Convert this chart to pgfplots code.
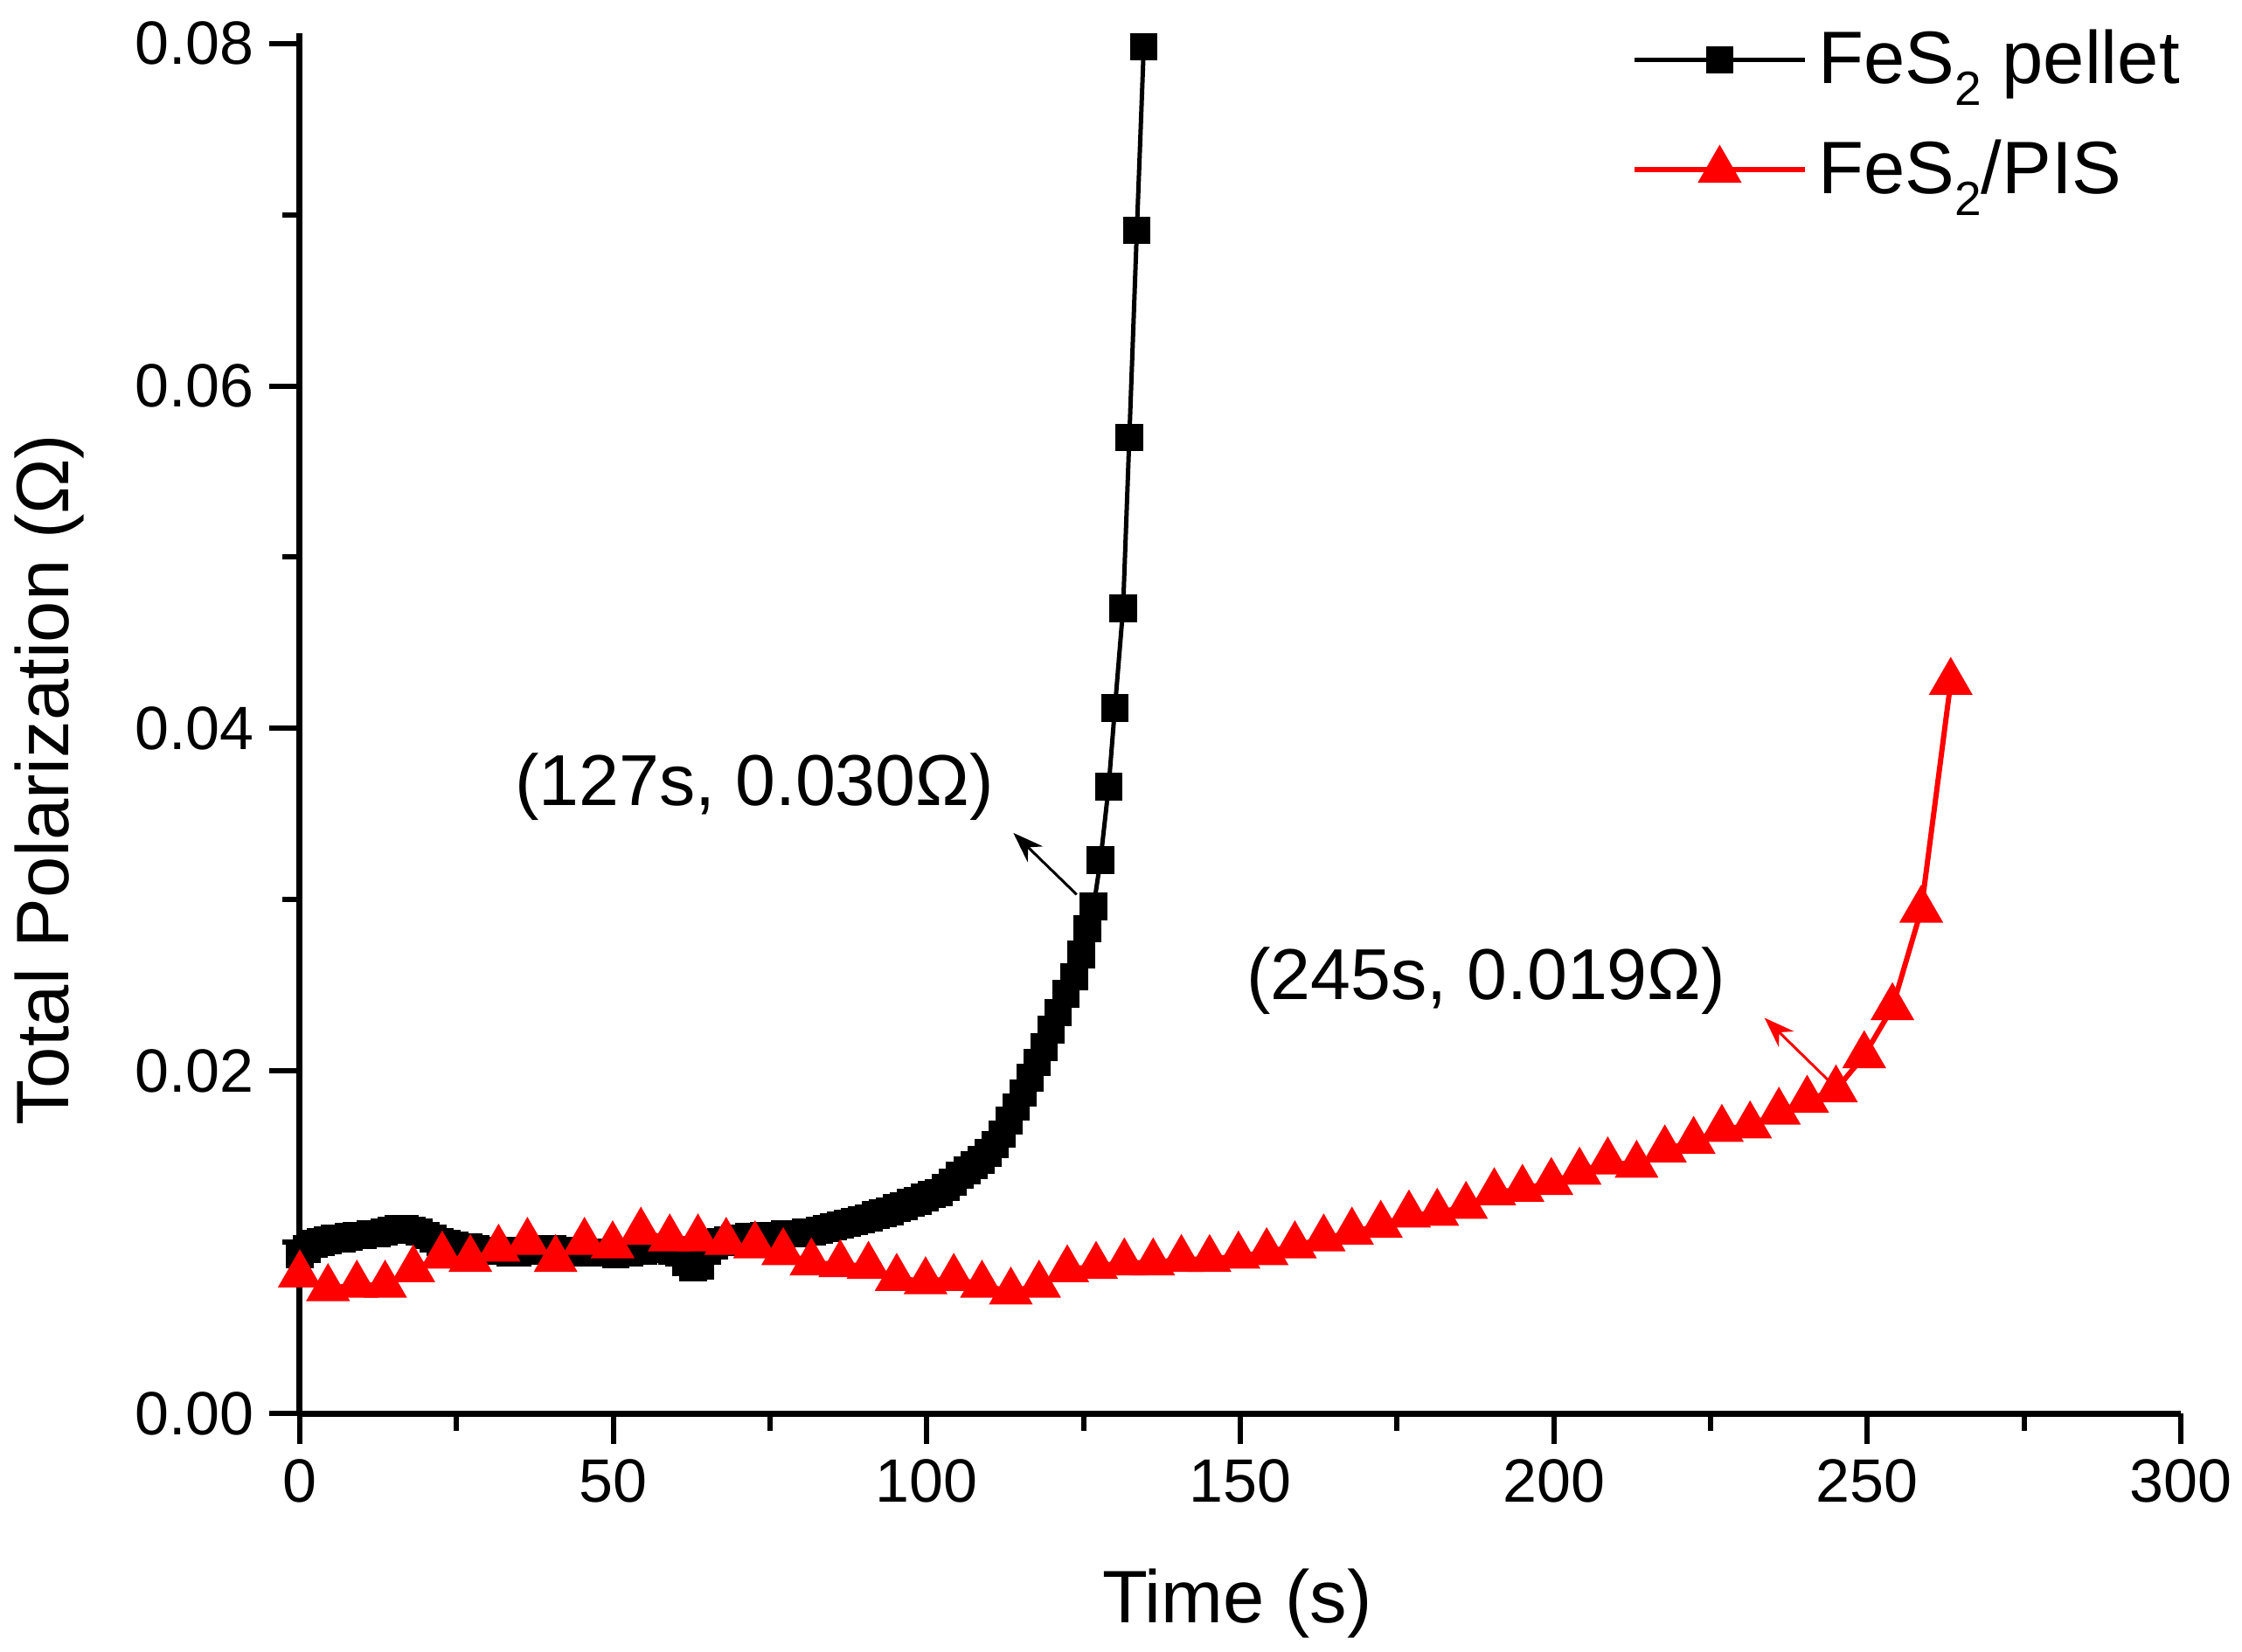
\documentclass[border=0pt]{standalone}
\usepackage{fontspec}
\setmainfont{Liberation Sans}
\usepackage{pgfplots}
\pgfplotsset{compat=1.18}
\usetikzlibrary{arrows.meta}
\newcommand\sub[1]{\raisebox{-0.55ex}{\fontsize{11}{11}\selectfont #1}}
\begin{document}
\begin{tikzpicture}
\useasboundingbox (-68.6pt,-54.4pt) rectangle (444.4pt,323.4pt);
\begin{axis}[
 at={(0,0)}, anchor=south west,
 scale only axis, width=430.4pt, height=315.8pt,
 xmin=0, xmax=300, ymin=0, ymax=0.0806,
 axis x line*=bottom, axis y line*=left,
 axis line style={line width=1.4pt},
 xtick={0,50,100,150,200,250,300},
 ytick={0,0.02,0.04,0.06,0.08},
 minor x tick num=1, minor y tick num=1,
 tick align=outside, major tick length=7pt, minor tick length=4pt,
 tick style={black, line width=1.2pt},
 scaled y ticks=false,
 yticklabel style={/pgf/number format/.cd, fixed, fixed zerofill, precision=2},
 /pgf/number format/assume math mode=true,
 tick label style={font=\fontsize{14}{16}\selectfont},
 xlabel={Time (s)}, ylabel={Total Polarization (Ω)},
 label style={font=\fontsize{17}{20}\selectfont},
 xlabel style={at={(axis cs:149.5,-0.0111)}, anchor=center},
 ylabel style={at={(axis cs:-39.9,0.037)}, anchor=center},
 legend style={at={(axis cs:212.3,0.0815)}, anchor=north west, draw=none, fill=none,
   font=\fontsize{17}{20}\selectfont, row sep=6.4pt, inner sep=0pt, nodes={inner sep=2.5pt}},
 legend cell align=left,
 legend image code/.code={\draw[mark repeat=2, mark phase=2] plot coordinates {(0pt,0pt) (19.5pt,0pt) (39pt,0pt)};},
 clip=false,
]
\addplot[black, line width=1pt, mark=square*, mark size=2.65pt, mark options={solid}] coordinates {
(0.00,0.0093) (1.12,0.0096) (2.24,0.0099) (3.36,0.0100) (4.48,0.0101) (5.60,0.0102)
(6.72,0.0102) (7.84,0.0103) (8.96,0.0104) (10.08,0.0104) (11.20,0.0105) (12.32,0.0105)
(13.44,0.0106) (14.56,0.0107) (15.68,0.0108) (16.80,0.0108) (17.92,0.0107) (19.04,0.0106)
(20.16,0.0104) (21.28,0.0102) (22.40,0.0100) (23.52,0.0099) (24.64,0.0098) (25.76,0.0097)
(26.88,0.0097) (28.00,0.0096) (29.12,0.0095) (30.24,0.0095) (31.36,0.0095) (32.48,0.0095)
(33.60,0.0094) (34.72,0.0094) (35.84,0.0095) (36.96,0.0095) (38.08,0.0095) (39.20,0.0096)
(40.32,0.0096) (41.44,0.0095) (42.56,0.0095) (43.68,0.0095) (44.80,0.0094) (45.92,0.0094)
(47.04,0.0094) (48.16,0.0094) (49.28,0.0094) (50.40,0.0093) (51.52,0.0094) (52.64,0.0094)
(53.76,0.0095) (54.88,0.0095) (56.00,0.0096) (57.12,0.0096) (58.24,0.0096) (59.36,0.0095)
(60.48,0.0094) (61.60,0.0088) (62.72,0.0085) (63.84,0.0086) (64.96,0.0095) (66.08,0.0098)
(67.20,0.0100) (68.32,0.0101) (69.44,0.0102) (70.56,0.0102) (71.68,0.0103) (72.80,0.0103)
(73.92,0.0104) (75.04,0.0104) (76.16,0.0104) (77.28,0.0105) (78.40,0.0105) (79.52,0.0105)
(80.64,0.0106) (81.76,0.0106) (82.88,0.0107) (84.00,0.0108) (85.12,0.0109) (86.24,0.0110)
(87.36,0.0111) (88.48,0.0112) (89.60,0.0113) (90.72,0.0114) (91.84,0.0116) (92.96,0.0117)
(94.08,0.0118) (95.20,0.0120) (96.32,0.0121) (97.44,0.0123) (98.56,0.0124) (99.68,0.0126)
(100.80,0.0128) (101.92,0.0129) (103.04,0.0132) (104.16,0.0135) (105.28,0.0139) (106.40,0.0142)
(107.52,0.0145) (108.64,0.0148) (109.76,0.0152) (110.88,0.0157) (112.00,0.0163) (113.12,0.0171)
(114.24,0.0179) (115.36,0.0187) (116.48,0.0196) (117.60,0.0205) (118.72,0.0214) (119.84,0.0224)
(120.96,0.0234) (122.20,0.0245) (123.50,0.0255) (124.60,0.0268) (125.60,0.0283) (126.60,0.0296)
(127.70,0.0323) (129.00,0.0366) (130.00,0.0412) (131.30,0.0470) (132.30,0.0570) (133.50,0.0691)
(134.60,0.0798)
};
\addlegendentry{FeS\sub{2} pellet}
\addplot[red, line width=1.2pt, mark=triangle*, mark size=4.6pt, mark options={solid}] coordinates {
(0.0,0.0081) (4.5,0.0073) (9.1,0.0075) (13.6,0.0075) (18.1,0.0084) (22.7,0.0092)
(27.2,0.0090) (31.7,0.0096) (36.3,0.0100) (40.8,0.0090) (45.4,0.0100) (49.9,0.0098)
(54.4,0.0106) (59.0,0.0102) (63.5,0.0102) (68.0,0.0100) (72.6,0.0098) (77.1,0.0094)
(81.6,0.0088) (86.2,0.0087) (90.7,0.0086) (95.2,0.0079) (99.8,0.0077) (104.3,0.0079)
(108.8,0.0075) (113.4,0.0071) (117.9,0.0075) (122.4,0.0084) (127.0,0.0086) (131.5,0.0088)
(136.1,0.0088) (140.6,0.0090) (145.1,0.0090) (149.7,0.0092) (154.2,0.0094) (158.7,0.0098)
(163.3,0.0102) (167.8,0.0106) (172.4,0.0110) (176.9,0.0116) (181.4,0.0117) (186.0,0.0121)
(190.5,0.0129) (195.0,0.0131) (199.6,0.0135) (204.1,0.0141) (208.6,0.0147) (213.2,0.0145)
(217.7,0.0154) (222.3,0.0159) (226.8,0.0166) (231.3,0.0168) (235.9,0.0176) (240.4,0.0183)
(245.0,0.0189) (249.5,0.0209) (254.0,0.0237) (258.6,0.0294) (263.3,0.0427)
};
\addlegendentry{FeS\sub{2}/PIS}
\node[font=\fontsize{16.5}{19}\selectfont, anchor=center] at (axis cs:72.5,0.0366) {(127s, 0.030Ω)};
\node[font=\fontsize{16.5}{19}\selectfont, anchor=center] at (axis cs:189.2,0.02525) {(245s, 0.019Ω)};
\draw[black, line width=0.6pt, -{Stealth[length=7pt,width=5pt]}] (axis cs:123.9,0.0303) -- (axis cs:113.8,0.0339);
\draw[red, line width=0.6pt, -{Stealth[length=7pt,width=5pt]}] (axis cs:244.2,0.0193) -- (axis cs:233.6,0.0231);
\end{axis}
\end{tikzpicture}
\end{document}
